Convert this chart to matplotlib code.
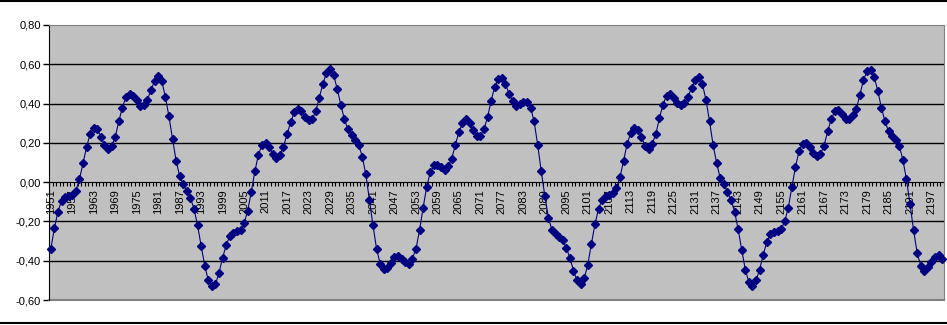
import matplotlib
matplotlib.use('Agg')
import matplotlib.pyplot as plt
from matplotlib.lines import Line2D
from matplotlib.ticker import FixedLocator, FuncFormatter

plt.rcParams['font.family'] = ['Liberation Sans', 'DejaVu Sans']

years = list(range(1951, 2201))
values = [
    # 1951-1960
    -0.34, -0.235, -0.15, -0.095, -0.075, -0.07, -0.065, -0.045, 0.015, 0.095,
    # 1961-1970
    0.18, 0.245, 0.275, 0.27, 0.23, 0.19, 0.17, 0.185, 0.23, 0.31,
    # 1971-1980
    0.38, 0.435, 0.45, 0.44, 0.42, 0.39, 0.395, 0.42, 0.47, 0.515,
    # 1981-1990
    0.54, 0.515, 0.435, 0.335, 0.22, 0.11, 0.03, -0.01, -0.045, -0.08,
    # 1991-2000
    -0.135, -0.22, -0.325, -0.425, -0.5, -0.53, -0.52, -0.46, -0.385, -0.32,
    # 2001-2010
    -0.275, -0.26, -0.25, -0.245, -0.21, -0.145, -0.05, 0.055, 0.14, 0.19,
    # 2011-2020
    0.2, 0.18, 0.145, 0.125, 0.14, 0.18, 0.245, 0.305, 0.355, 0.37,
    # 2021-2030
    0.36, 0.33, 0.315, 0.32, 0.36, 0.43, 0.50, 0.555, 0.575, 0.545,
    # 2031-2040
    0.475, 0.395, 0.32, 0.27, 0.24, 0.215, 0.19, 0.13, 0.04, -0.09,
    # 2041-2050
    -0.22, -0.34, -0.415, -0.44, -0.435, -0.41, -0.38, -0.375, -0.39, -0.405,
    # 2051-2060
    -0.415, -0.39, -0.34, -0.245, -0.13, -0.025, 0.05, 0.085, 0.085, 0.075,
    # 2061-2070
    0.06, 0.08, 0.12, 0.19, 0.255, 0.30, 0.32, 0.30, 0.265, 0.235,
    # 2071-2080
    0.235, 0.27, 0.33, 0.415, 0.485, 0.525, 0.53, 0.5, 0.45, 0.415,
    # 2081-2090
    0.39, 0.40, 0.41, 0.41, 0.38, 0.31, 0.19, 0.055, -0.07, -0.18,
    # 2091-2100
    -0.245, -0.265, -0.28, -0.295, -0.335, -0.385, -0.45, -0.5, -0.52, -0.49,
    # 2101-2110
    -0.42, -0.315, -0.215, -0.135, -0.09, -0.07, -0.065, -0.055, -0.03, 0.025,
    # 2111-2120
    0.11, 0.195, 0.25, 0.275, 0.265, 0.23, 0.185, 0.17, 0.195, 0.245,
    # 2121-2130
    0.325, 0.395, 0.44, 0.45, 0.43, 0.405, 0.395, 0.405, 0.435, 0.48,
    # 2131-2140
    0.52, 0.535, 0.5, 0.42, 0.31, 0.19, 0.095, 0.02, -0.01, -0.05,
    # 2141-2150
    -0.09, -0.15, -0.24, -0.345, -0.445, -0.51, -0.53, -0.5, -0.445, -0.37,
    # 2151-2160
    -0.305, -0.265, -0.255, -0.25, -0.24, -0.2, -0.13, -0.025, 0.075, 0.16,
    # 2161-2170
    0.195, 0.2, 0.18, 0.15, 0.135, 0.145, 0.185, 0.26, 0.32, 0.36,
    # 2171-2180
    0.365, 0.345, 0.32, 0.32, 0.34, 0.37, 0.445, 0.52, 0.565, 0.57,
    # 2181-2190
    0.535, 0.465, 0.38, 0.31, 0.26, 0.235, 0.215, 0.185, 0.115, 0.015,
    # 2191-2200
    -0.11, -0.245, -0.36, -0.425, -0.45, -0.43, -0.405, -0.38, -0.37, -0.39,
]
y_ticks = [-0.6, -0.4, -0.2, 0.0, 0.2, 0.4, 0.6, 0.8]
label_every = 6

n = len(years)
x = list(range(n))

fig = plt.figure(figsize=(9.47, 3.25), dpi=100)
ax = fig.add_axes([49 / 947, 25 / 325, 895 / 947, 275 / 325])
ax.set_facecolor('#c0c0c0')

for v in y_ticks[1:-1]:
    if v != 0:
        ax.axhline(v, color='black', lw=1, zorder=1)

ax.plot(x, values, color='#000080', lw=0.8, marker='D', markersize=4.2,
        markerfacecolor='#000080', markeredgecolor='#000080', zorder=3,
        clip_on=False)

ax.set_xlim(-0.5, n - 0.5)
ax.set_ylim(-0.6, 0.8)

# y axis
ax.set_yticks(y_ticks)
ax.yaxis.set_major_formatter(FuncFormatter(lambda v, p: f"{v:.2f}".replace('.', ',')))
ax.tick_params(axis='y', direction='out', length=4, width=1, labelsize=8,
               pad=2, colors='black')

# x axis crosses at zero
ax.spines['bottom'].set_position(('data', 0))
ax.spines['bottom'].set_color('black')
ax.spines['left'].set_color('black')
ax.spines['top'].set_color('#808080')
ax.spines['right'].set_color('#808080')
ax.spines['bottom'].set_zorder(2)

major = x[::label_every]
ax.xaxis.set_major_locator(FixedLocator(major))
ax.set_xticklabels([str(years[i]) for i in major], rotation=90, fontsize=8)
ax.xaxis.set_minor_locator(FixedLocator([i - 0.5 for i in range(n + 1)]))
ax.tick_params(axis='x', which='major', length=0, pad=5)
ax.tick_params(axis='x', which='minor', direction='out', length=3, width=0.8,
               colors='black')

# bottom border of plot area at -0.6
ax.axhline(-0.6, color='#808080', lw=1.5, clip_on=False, zorder=2)

# chart frame lines at top and bottom of image
fig.add_artist(Line2D([0, 1], [1 - 1 / 325, 1 - 1 / 325], color='black', lw=1.5))
fig.add_artist(Line2D([0, 1], [2 / 325, 2 / 325], color='black', lw=1.5))

fig.savefig('out.png', dpi=100)
